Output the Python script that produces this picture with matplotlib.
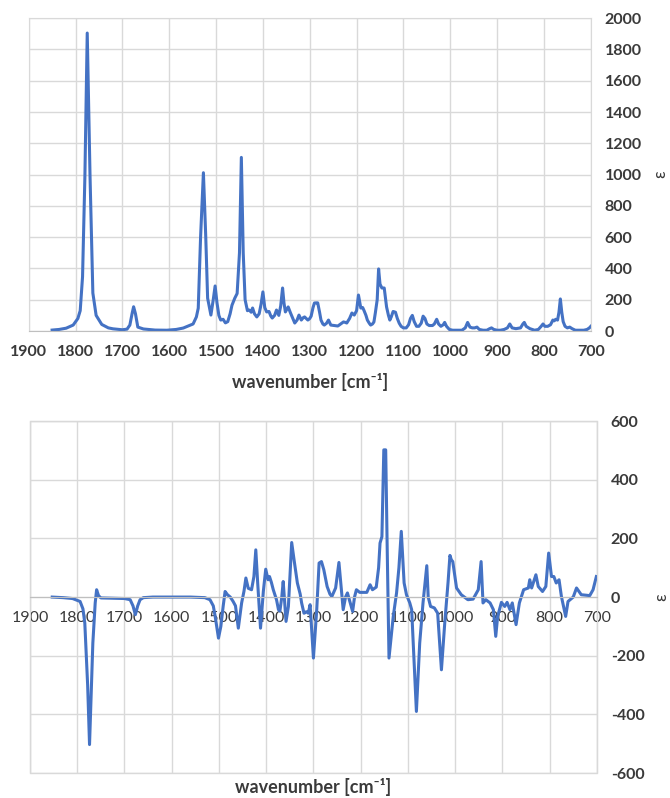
import matplotlib
matplotlib.use("Agg")
import matplotlib.pyplot as plt

plt.rcParams["font.family"] = ["Lato", "DejaVu Sans"]
plt.rcParams["axes.unicode_minus"] = False

# absorption spectrum (top)
top_wn = [1850, 1835, 1820, 1805, 1795, 1790, 1785, 1780, 1775, 1769, 1763, 1756, 1744,
          1730, 1720, 1700, 1690, 1684, 1679, 1676, 1672, 1667, 1655, 1630, 1605, 1585,
          1570, 1549, 1542, 1538, 1533, 1527, 1522, 1518, 1511, 1506, 1502, 1498, 1494,
          1490, 1485, 1480, 1475, 1470, 1466, 1460, 1455, 1450, 1446, 1442, 1438, 1433,
          1429, 1425, 1422, 1418, 1413, 1408, 1404, 1400, 1396, 1392, 1387, 1383, 1380,
          1375, 1371, 1366, 1362, 1358, 1355, 1352, 1346, 1341, 1336, 1332, 1327, 1323,
          1318, 1314, 1311, 1304, 1300, 1297, 1293, 1290, 1286, 1283, 1279, 1276, 1272,
          1269, 1264, 1260, 1255, 1248, 1240, 1234, 1228, 1224, 1221, 1215, 1210, 1205,
          1200, 1196, 1193, 1191, 1187, 1184, 1180, 1177, 1173, 1170, 1166, 1163, 1160,
          1156, 1153, 1150, 1146, 1141, 1138, 1136, 1132, 1129, 1126, 1122, 1117, 1113,
          1109, 1105, 1100, 1094, 1089, 1085, 1081, 1077, 1072, 1067, 1062, 1058, 1054,
          1050, 1045, 1038, 1034, 1029, 1025, 1020, 1015, 1012, 1008, 1002, 995, 985,
          975, 968, 963, 958, 953, 948, 943, 938, 930, 922, 916, 912, 907, 900, 893,
          885, 878, 873, 868, 860, 850, 845, 842, 838, 830, 820, 812, 806, 802, 798,
          792, 786, 781, 778, 775, 771, 768, 765, 762, 759, 755, 750, 745, 740, 733,
          725, 715, 708, 703, 700]
top_eps = [6, 10, 18, 38, 80, 130, 347, 987, 1905, 987, 243, 100, 42,
           20, 14, 8, 12, 38, 115, 155, 110, 25, 13, 6, 5, 10,
           19, 45, 90, 146, 603, 1012, 603, 210, 102, 200, 288, 180, 100,
           70, 75, 52, 60, 110, 165, 210, 240, 500, 1110, 500, 200, 130,
           134, 120, 147, 110, 90, 110, 170, 250, 150, 122, 125, 95, 83,
           100, 134, 100, 160, 275, 180, 122, 154, 115, 80, 51, 70, 102,
           70, 85, 90, 70, 80, 95, 150, 179, 180, 180, 120, 70, 45,
           38, 50, 70, 38, 35, 32, 45, 58, 55, 51, 80, 115, 102,
           130, 230, 180, 147, 150, 130, 100, 70, 50, 38, 45, 58, 115,
           200, 397, 300, 275, 275, 200, 154, 100, 70, 90, 125, 120, 80,
           50, 30, 20, 20, 40, 80, 100, 60, 30, 30, 50, 95, 80,
           45, 35, 35, 45, 75, 45, 30, 40, 55, 30, 10, 5, 5,
           5, 20, 55, 25, 20, 20, 25, 10, 5, 5, 15, 20, 10, 5, 5,
           10, 20, 45, 20, 15, 20, 45, 55, 30, 15, 5, 10, 30, 45, 30,
           30, 40, 70, 65, 75, 70, 120, 205, 120, 60, 30, 20, 25, 15, 5,
           5, 5, 10, 20, 30]

# difference spectrum (bottom)
bot_wn = [1853, 1830, 1810, 1794, 1788, 1784, 1778, 1774, 1770, 1767, 1762, 1759, 1755,
          1750, 1720, 1700, 1688, 1682, 1677, 1672, 1667, 1660, 1640, 1600, 1560, 1530,
          1519, 1512, 1508, 1501, 1496, 1491, 1487, 1482, 1476, 1470, 1465, 1459, 1452,
          1447, 1443, 1438, 1431, 1426, 1422, 1418, 1412, 1406, 1401, 1396, 1393, 1389,
          1385, 1378, 1374, 1371, 1367, 1364, 1358, 1353, 1350, 1346, 1341, 1334, 1328,
          1325, 1320, 1315, 1311, 1307, 1300, 1293, 1288, 1283, 1278, 1271, 1265, 1261,
          1253, 1246, 1242, 1237, 1232, 1228, 1222, 1217, 1213, 1209, 1202, 1195, 1187,
          1180, 1175, 1167, 1162, 1159, 1155, 1151, 1147, 1144, 1140, 1131, 1124, 1119,
          1114, 1108, 1103, 1096, 1092, 1082, 1075, 1068, 1060, 1057, 1052, 1044, 1037,
          1029, 1022, 1015, 1011, 1008, 1005, 997, 987, 973, 962, 951, 945, 941, 935,
          926, 919, 914, 910, 902, 895, 890, 884, 879, 871, 864, 855, 845, 842, 838,
          829, 824, 815, 808, 802, 796, 791, 786, 780, 775, 766, 761, 750, 743, 733,
          715, 708, 701]
bot_eps = [0, -2, -5, -15, -40, -89, -300, -503, -300, -157, -20, 25, 5,
           -3, -4, -5, -9, -30, -60, -30, -9, -2, 0, 0, 0, -2,
           -9, -30, -66, -140, -100, -30, 19, 8, 0, -15, -30, -106, -20,
           20, 65, 30, 25, 70, 161, 48, -106, 20, 95, 59, 70, 50,
           25, -10, -43, -48, 0, 53, -83, -32, 60, 186, 127, 48, 10,
           -20, -55, -50, -55, -26, -208, -43, 116, 121, 93, 36, 10, 2,
           31, 118, 48, -43, 0, 14, -20, -49, 0, 25, 16, 16, 16,
           42, 25, 34, 100, 184, 206, 502, 502, 184, -208, -66, 14, 100,
           224, 48, 8, -20, -43, -390, -157, -20, 107, 0, -32, -37, -55,
           -248, -89, 50, 142, 127, 121, 31, 8, -9, -7, 25, 121, -20, -9,
           -20, -43, -134, -66, -18, -32, -18, -43, -20, -94, -20, 25, 31, 59, 31,
           76, 36, 19, 36, 150, 70, 70, 48, 59, 2, -66, -15, 0, 31, 8,
           5, 25, 70]

x_ticks = list(range(1900, 699, -100))
top_yticks = list(range(0, 2001, 200))
bot_yticks = list(range(-600, 601, 200))

BLUE = "#4472C4"
GRID = "#d9d9d9"
AXIS = "#bfbfbf"
TEXT = "#3a3a3a"


def style(ax, yticks):
    ax.set_xlim(1900, 700)
    ax.set_ylim(yticks[0], yticks[-1])
    ax.set_xticks(x_ticks)
    ax.set_yticks(yticks)
    ax.grid(True, color=GRID, lw=1.0)
    ax.set_axisbelow(True)
    ax.yaxis.tick_right()
    ax.yaxis.set_label_position("right")
    ax.tick_params(length=0, labelsize=11.5, labelcolor=TEXT, pad=10)
    for lbl in ax.get_xticklabels() + ax.get_yticklabels():
        lbl.set_fontweight("bold")
    for s in ax.spines.values():
        s.set_color(GRID)
    ax.spines["bottom"].set_color(AXIS)


fig = plt.figure(figsize=(6.7, 7.98), dpi=100)

# top panel
ax1 = fig.add_axes([0.0428, 0.5852, 0.839, 0.392])
ax1.plot(top_wn, top_eps, color=BLUE, lw=2.2)
style(ax1, top_yticks)
ax1.set_xlabel("wavenumber [cm⁻¹]", fontsize=13, fontweight="bold", color=TEXT)
ax1.xaxis.set_label_coords(0.5, -0.135)
ax1.set_ylabel("ε", fontsize=12, color=TEXT)
ax1.yaxis.set_label_coords(1.11, 0.5)

# bottom panel
ax2 = fig.add_axes([0.0448, 0.0313, 0.846, 0.441])
ax2.plot(bot_wn, bot_eps, color=BLUE, lw=2.2)
style(ax2, bot_yticks)
ax2.spines["bottom"].set_position(("data", 0))
ax2.patch.set_edgecolor(GRID)
ax2.patch.set_linewidth(1.0)
ax2.set_xlabel("wavenumber [cm⁻¹]", fontsize=13, fontweight="bold", color=TEXT)
ax2.xaxis.set_label_coords(0.5, -0.015)
ax2.set_ylabel("ε", fontsize=12, color=TEXT)
ax2.yaxis.set_label_coords(1.1, 0.5)

fig.savefig("out.png", dpi=100, facecolor="white")
